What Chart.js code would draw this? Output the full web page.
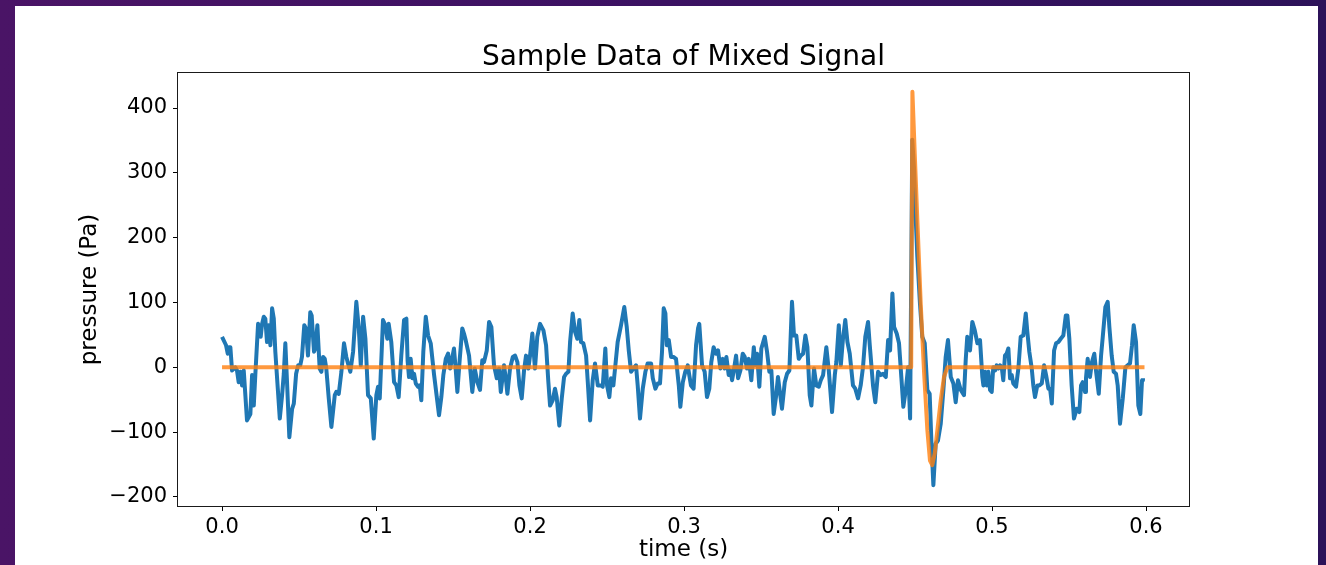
<!DOCTYPE html>
<html><head><meta charset="utf-8">
<script src="https://cdn.jsdelivr.net/npm/chart.js@4.4.1/dist/chart.umd.min.js"></script>
<style>
html,body{margin:0;padding:0;width:1326px;height:565px;overflow:hidden;background:linear-gradient(90deg,#4a1466 0%,#3b1162 50%,#2c1259 100%);}
#panel{position:absolute;left:15px;top:6px;width:1303px;height:570px;background:#fff;}
#c{position:absolute;left:0;top:0;}
</style></head><body>
<div id="panel"></div>
<canvas id="c" width="1326" height="565"></canvas>
<script>
const signalTime = [
0.0000,0.0026,0.0037,0.0044,0.0054,0.0065,0.0076,0.0086,0.0097,0.0108,0.0119,0.0130,0.0141,0.0162,0.0184,0.0195,0.0206,0.0216,0.0234,0.0242,0.0251,0.0260,0.0271,0.0281,0.0292,0.0303,0.0314,0.0325,0.0336,0.0346,0.0362,0.0375,0.0390,0.0401,0.0411,0.0422,0.0437,0.0455,0.0466,0.0481,0.0494,0.0508,0.0519,0.0534,0.0545,0.0558,0.0573,
0.0582,0.0597,0.0606,0.0619,0.0634,0.0645,0.0656,0.0667,0.0677,0.0693,0.0710,0.0732,0.0742,0.0758,0.0775,0.0792,0.0807,0.0818,0.0833,0.0851,0.0872,0.0888,0.0901,0.0916,0.0931,0.0948,0.0966,0.0985,0.1002,0.1013,0.1024,0.1045,0.1060,0.1073,0.1082,0.1099,0.1117,0.1132,0.1147,0.1164,0.1182,0.1197,
0.1205,0.1214,0.1225,0.1236,0.1247,0.1258,0.1273,0.1284,0.1294,0.1307,0.1323,0.1338,0.1355,0.1377,0.1409,0.1424,0.1437,0.1453,0.1468,0.1481,0.1496,0.1506,0.1517,0.1528,0.1543,0.1560,0.1571,0.1582,0.1604,0.1625,0.1641,0.1658,0.1675,0.1690,0.1701,0.1719,0.1734,0.1749,0.1766,0.1784,0.1799,0.1810,
0.1831,0.1844,0.1853,0.1870,0.1888,0.1903,0.1918,0.1931,0.1946,0.1961,0.1974,0.1989,0.2000,0.2015,0.2032,0.2047,0.2065,0.2087,0.2104,0.2119,0.2130,0.2147,0.2162,0.2173,0.2190,0.2206,0.2221,0.2234,0.2249,0.2260,0.2277,0.2292,0.2307,0.2320,0.2331,0.2346,0.2364,0.2375,0.2390,0.2407,0.2422,
0.2440,0.2461,0.2472,0.2489,0.2500,0.2515,0.2526,0.2541,0.2554,0.2569,0.2591,0.2612,0.2628,0.2641,0.2656,0.2671,0.2688,0.2699,0.2714,0.2732,0.2749,0.2764,0.2786,0.2797,0.2814,0.2829,0.2844,0.2857,0.2868,0.2879,0.2888,0.2901,0.2916,0.2931,0.2948,0.2966,0.2976,0.2992,0.3008,0.3024,0.3034,0.3045,
0.3062,0.3078,0.3091,0.3099,0.3117,0.3134,0.3149,0.3164,0.3177,0.3192,0.3208,0.3221,0.3236,0.3251,0.3264,0.3275,0.3290,0.3301,0.3312,0.3323,0.3338,0.3351,0.3366,0.3381,0.3394,0.3409,0.3420,0.3437,0.3453,0.3463,0.3474,0.3489,0.3502,0.3524,0.3539,0.3554,0.3567,0.3582,0.3597,0.3610,0.3625,0.3636,0.3654,0.3669,0.3684,0.3701,
0.3714,0.3729,0.3745,0.3758,0.3773,0.3788,0.3801,0.3816,0.3827,0.3844,0.3859,0.3875,0.3888,0.3903,0.3924,0.3940,0.3961,0.3979,0.3989,0.4005,0.4018,0.4032,0.4047,0.4061,0.4076,0.4097,0.4112,0.4130,0.4147,0.4162,0.4177,0.4195,0.4206,0.4227,0.4242,0.4260,0.4277,0.4292,
0.4310,0.4325,0.4338,0.4353,0.4364,0.4381,0.4396,0.4411,0.4424,0.4440,0.4455,0.4468,0.4482,0.4494,0.4505,0.4515,0.4532,0.4547,0.4563,0.4580,0.4595,0.4606,0.4619,0.4634,0.4649,0.4667,0.4684,0.4699,0.4714,0.4732,0.4749,0.4764,0.4779,0.4797,0.4818,0.4829,0.4839,0.4857,0.4872,0.4888,0.4905,0.4922,0.4937,
0.4944,0.4955,0.4966,0.4976,0.4987,0.4998,0.5008,0.5019,0.5030,0.5041,0.5052,0.5063,0.5073,0.5084,0.5095,0.5106,0.5117,0.5128,0.5138,0.5156,0.5171,0.5186,0.5203,0.5219,0.5229,0.5242,0.5258,0.5268,0.5279,0.5294,0.5307,0.5323,0.5338,0.5351,0.5366,0.5377,0.5388,0.5403,0.5416,0.5431,0.5446,0.5463,0.5479,0.5489,0.5502,0.5517,0.5532,0.5550,
0.5567,0.5578,0.5589,0.5604,0.5610,0.5621,0.5636,0.5649,0.5664,0.5675,0.5693,0.5708,0.5719,0.5736,0.5751,0.5762,0.5777,0.5790,0.5805,0.5816,0.5831,0.5849,0.5866,0.5881,0.5896,0.5909,0.5920,0.5935,0.5950,0.5963,0.5974,0.5980
];
const signalPressure = [
47,34,21,31,31,-5,-2,0,-5,-23,-7,-28,-5,-82,-72,-12,-59,-12,67,62,47,67,78,75,39,65,34,91,75,24,-33,-79,-43,-10,37,-23,-108,-64,-56,-10,3,3,16,65,60,18,85,
80,24,29,65,-2,-7,16,13,-2,-48,-92,-43,-38,-41,-7,37,16,6,-7,24,101,60,3,78,44,-43,-48,-110,-43,-30,-48,73,65,44,67,39,-23,-28,-46,18,73,75,
10,-15,13,-17,-10,-25,-30,-28,-51,24,78,49,37,-12,-74,-46,-12,13,21,-2,16,29,-2,-38,11,60,52,42,18,-38,-2,-23,-35,11,8,26,70,62,3,-17,-2,-38,
3,-20,-41,-2,16,18,8,-28,-48,-5,18,-2,18,52,-2,47,67,57,34,-23,-59,-51,-33,-46,-90,-48,-15,-10,-7,39,83,55,44,73,39,37,18,-23,-82,-20,6,
-28,-28,-30,29,-28,-46,-17,-28,3,39,65,93,62,26,-7,-2,3,-28,-79,-33,-7,6,6,-17,-33,-25,-25,24,91,83,34,42,16,16,13,-28,-61,-23,-7,3,-12,-28,
-33,34,60,67,3,-7,-46,-33,8,31,21,26,-2,13,-2,16,-12,-5,-20,-5,18,-17,-5,21,16,-2,13,-20,31,3,21,-30,29,47,24,-7,-5,-72,-46,-15,-43,-64,-23,-10,-5,101,
49,49,13,18,21,49,31,-43,-59,-2,-28,-30,-20,-12,31,-5,-69,-12,8,65,3,44,73,39,21,-28,-33,-48,-28,0,47,70,34,-28,-54,-7,-12,-10,
-15,42,26,114,62,52,37,-15,-61,-35,0,-79,351,304,227,170,98,47,37,-35,-41,-113,-182,-118,-113,-87,-35,16,42,-15,-25,-54,-20,-35,-43,11,47,26,70,57,37,42,-15,
-28,-7,-28,-7,-35,-38,0,-5,3,-2,3,0,-20,18,21,29,-17,-12,-25,-30,-2,47,49,83,55,24,-2,-28,-46,-28,-28,-25,3,-12,-33,-33,-56,26,37,39,44,49,80,80,44,-28,-79,-64,
-69,-28,-23,-38,-17,13,-15,8,21,-5,-41,18,47,93,101,62,18,-7,-10,-28,-87,-48,0,3,6,34,65,39,-59,-72,-20,-17
];
const pulseTime = [0.0000,0.4475,0.4483,0.4498,0.4515,0.4537,0.4558,0.4580,0.4597,0.4612,0.4628,0.4645,0.4667,0.4688,0.4710,0.5990];
const pulsePressure = [0,0,425,330,227,98,-5,-97,-144,-151,-133,-97,-51,-15,0,0];
const xTickValues = [0.0,0.1,0.2,0.3,0.4,0.5,0.6];
const yTickValues = [-200,-100,0,100,200,300,400];
const titleText = 'Sample Data of Mixed Signal';
const xLabel = 'time (s)';
const yLabel = 'pressure (Pa)';

const FONT = "'DejaVu Sans', 'Liberation Sans', sans-serif";
const toXY = (xs, ys) => xs.map((x, i) => ({x: x, y: ys[i]}));

const framePlugin = {
  id: 'frame',
  afterDatasetsDraw(chart) {
    const {ctx, chartArea: a} = chart;
    ctx.save();
    ctx.strokeStyle = '#1a1a1a';
    ctx.lineWidth = 1;
    ctx.strokeRect(Math.round(a.left) - 0.5, Math.round(a.top) - 0.5, Math.round(a.right - a.left) + 1, Math.round(a.bottom - a.top) + 1);
    ctx.restore();
  }
};

new Chart(document.getElementById('c'), {
  type: 'line',
  data: {
    datasets: [
      {label: 'signal', data: toXY(signalTime, signalPressure), borderColor: '#1f77b4', borderWidth: 4, pointRadius: 0, tension: 0, borderJoinStyle: 'round', borderCapStyle: 'butt', order: 2},
      {label: 'pulse', data: toXY(pulseTime, pulsePressure), borderColor: 'rgba(255,127,14,0.8)', borderWidth: 4, pointRadius: 0, tension: 0, borderJoinStyle: 'round', borderCapStyle: 'butt', order: 1}
    ]
  },
  options: {
    responsive: false,
    maintainAspectRatio: false,
    animation: false,
    events: [],
    layout: {padding: {left: 70, right: 137, top: 0, bottom: 0}},
    plugins: {
      legend: {display: false},
      tooltip: {enabled: false},
      title: {display: false}
    },
    scales: {
      x: {
        type: 'linear', min: -0.0286, max: 0.6279,
        afterFit(s) { s.height = 59; },
        afterBuildTicks(s) { s.ticks = xTickValues.map(v => ({value: v})); },
        border: {display: false},
        grid: {display: true, drawOnChartArea: false, drawTicks: true, tickLength: 5, tickColor: '#000', tickWidth: 1},
        ticks: {color: '#000', font: {family: FONT, size: 21}, padding: 4, maxRotation: 0, autoSkip: false, callback: v => Number(v).toFixed(1)},
        title: {display: true, text: xLabel, color: '#000', font: {family: FONT, size: 23}, padding: {top: 0, bottom: 1}}
      },
      xTop: {
        type: 'linear', position: 'top', min: -0.0286, max: 0.6279,
        afterFit(s) { s.height = 73; },
        border: {display: false},
        grid: {display: false},
        ticks: {display: false},
        title: {display: true, text: titleText, color: '#000', font: {family: FONT, size: 28, lineHeight: 1.2}, padding: {top: 41, bottom: 0}}
      },
      y: {
        type: 'linear', min: -214, max: 454,
        afterFit(s) { s.width = 108; },
        afterBuildTicks(s) { s.ticks = yTickValues.map(v => ({value: v})); },
        border: {display: false},
        grid: {display: true, drawOnChartArea: false, drawTicks: true, tickLength: 5, tickColor: '#000', tickWidth: 1},
        ticks: {color: '#000', font: {family: FONT, size: 21}, padding: 6, autoSkip: false, callback: v => (v < 0 ? '\u2212' + Math.abs(v) : String(v))},
        title: {display: true, text: yLabel, color: '#000', font: {family: FONT, size: 23}, padding: {top: 6, bottom: 0}}
      }
    }
  },
  plugins: [framePlugin]
});
</script>
</body></html>
